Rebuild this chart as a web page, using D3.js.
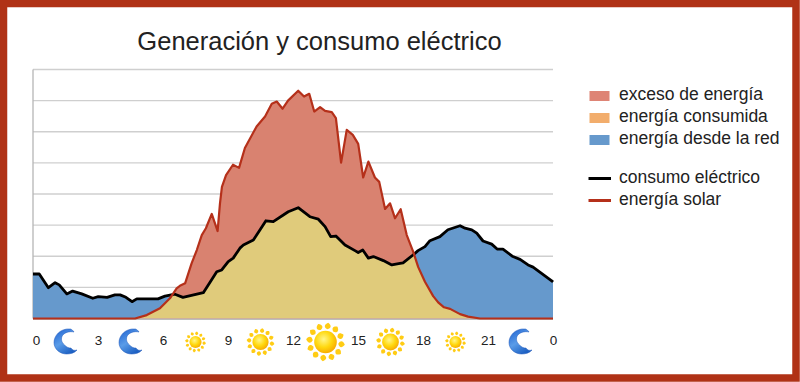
<!DOCTYPE html>
<html lang="es">
<head>
<meta charset="utf-8">
<title>Generación y consumo eléctrico</title>
<script src="https://cdn.jsdelivr.net/npm/d3@7"></script>
<style>
  html, body { margin: 0; padding: 0; background: #fff; }
  svg { display: block; font-family: "Liberation Sans", Arial, sans-serif; }
  .tick text { font-size: 13.5px; fill: #222; }
</style>
</head>
<body>
<div id="chart"></div>
<script>
const consumoHours = [0, 0.29, 0.71, 1.02, 1.21, 1.56, 1.83, 2.25, 2.76, 3.01, 3.42, 3.78, 4.02, 4.29, 4.57, 4.79, 5.77, 6.09, 6.55, 6.92, 7.86, 8.09, 8.48, 8.71, 9.01, 9.24, 9.55, 9.71, 10.17, 10.48, 10.75, 11.09, 11.78, 12.24, 12.78, 13.17, 13.48, 13.74, 13.98, 14.4, 14.86, 15.01, 15.22, 15.48, 15.71, 16.17, 16.56, 16.94, 17.08, 17.54, 17.77, 18.09, 18.32, 18.78, 19.15, 19.71, 19.94, 20.25, 20.48, 20.77, 21.17, 21.42, 21.69, 22.15, 22.48, 22.85, 23.08, 23.94, 24];
const consumoValues = [1.43, 1.43, 0.99, 1.15, 1.08, 0.79, 0.88, 0.79, 0.65, 0.7, 0.68, 0.76, 0.76, 0.68, 0.54, 0.63, 0.63, 0.72, 0.78, 0.68, 0.83, 1.08, 1.5, 1.56, 1.83, 1.94, 2.26, 2.36, 2.52, 2.85, 3.14, 3.11, 3.43, 3.56, 3.27, 3.19, 2.95, 2.63, 2.65, 2.36, 2.18, 2.12, 2.2, 1.94, 1.99, 1.86, 1.72, 1.77, 1.79, 2.04, 2.18, 2.31, 2.5, 2.63, 2.85, 2.98, 2.9, 2.85, 2.74, 2.49, 2.39, 2.23, 2.23, 1.99, 1.9, 1.72, 1.65, 1.21, 1.17];

const solarHours = [0, 4.71, 5.25, 5.86, 6.32, 6.63, 6.78, 7.02, 7.32, 7.56, 7.79, 7.98, 8.25, 8.52, 8.63, 8.72, 8.91, 9.23, 9.51, 9.78, 10.32, 10.71, 11.02, 11.25, 11.52, 11.77, 12.24, 12.51, 12.75, 12.98, 13.25, 13.48, 13.79, 13.98, 14.22, 14.48, 14.76, 15.01, 15.24, 15.48, 15.78, 15.98, 16.25, 16.48, 16.71, 16.97, 17.25, 17.55, 17.78, 18.09, 18.47, 18.7, 18.97, 19.25, 19.71, 20.08, 20.63, 24];
const solarValues = [0, 0, 0.11, 0.33, 0.65, 0.97, 1.05, 1.13, 1.77, 2.2, 2.68, 2.9, 3.36, 2.81, 3.7, 4.23, 4.61, 4.94, 4.84, 5.48, 6.17, 6.49, 6.9, 6.97, 6.74, 7, 7.32, 7.13, 7.22, 6.65, 6.79, 6.67, 6.63, 6.44, 5.01, 6.06, 5.9, 5.61, 4.53, 5.04, 4.53, 4.39, 3.52, 3.7, 3.22, 3.51, 2.68, 2.14, 1.65, 1.18, 0.72, 0.52, 0.36, 0.31, 0.14, 0.06, 0, 0];

const gridValues = [1, 2, 3, 4, 5, 6, 7, 8];
const tickHours = [0, 3, 6, 9, 12, 15, 18, 21, 24];
const moonHours = [1.5, 4.5, 22.5];
const sunHours = [7.5, 10.5, 13.5, 16.5, 19.5];
const sunRadius = [10.5, 14, 19.5, 14.5, 10.5];

const areaLabels = ["exceso de energía", "energía consumida", "energía desde la red"];
const areaColors = ["#DE8475", "#F2AD6C", "#6699CC"];
const lineLabels = ["consumo eléctrico", "energía solar"];
const lineColors = ["#000000", "#B5301A"];

const FRAME = "#B03216";
const width = 800;
const height = 382;

const svg = d3.select("#chart")
  .append("svg")
  .attr("width", width)
  .attr("height", height);

const defs = svg.append("defs");

const sunGrad = defs.append("radialGradient").attr("id", "sunCore")
  .attr("cx", "42%").attr("cy", "38%").attr("r", "65%");
sunGrad.append("stop").attr("offset", "0%").attr("stop-color", "#FFF68A");
sunGrad.append("stop").attr("offset", "55%").attr("stop-color", "#FFD80F");
sunGrad.append("stop").attr("offset", "100%").attr("stop-color", "#F7A800");

const moonGrad = defs.append("linearGradient").attr("id", "moonFill")
  .attr("x1", "0%").attr("y1", "0%").attr("x2", "60%").attr("y2", "100%");
moonGrad.append("stop").attr("offset", "0%").attr("stop-color", "#1C5FD0");
moonGrad.append("stop").attr("offset", "55%").attr("stop-color", "#5A9CE8");
moonGrad.append("stop").attr("offset", "100%").attr("stop-color", "#1E62C4");

const x = d3.scaleLinear().domain([0, 24]).range([33, 553]);
const y = d3.scaleLinear().domain([0, 8]).range([318.5, 69.5]);

const consumo = consumoHours.map((h, i) => ({ h, v: consumoValues[i] }));
const solar = solarHours.map((h, i) => ({ h, v: solarValues[i] }));

const area = d3.area().x((d) => x(d.h)).y0(y(0)).y1((d) => y(d.v));
const line = d3.line().x((d) => x(d.h)).y((d) => y(d.v));

// grid
svg.append("g")
  .selectAll("line")
  .data(gridValues)
  .join("line")
  .attr("x1", x(0))
  .attr("x2", x(24))
  .attr("y1", (d) => y(d))
  .attr("y2", (d) => y(d))
  .attr("stroke", "#CFCFCF")
  .attr("stroke-width", 1.3);

svg.append("line")
  .attr("x1", x(0)).attr("x2", x(0))
  .attr("y1", y(8)).attr("y2", y(0))
  .attr("stroke", "#B5B5B5")
  .attr("stroke-width", 1.3);

// tan = whatever sits under both curves, so clip one area with the other
defs.append("clipPath").attr("id", "underConsumo")
  .append("path").attr("d", area(consumo));

svg.append("path").attr("d", area(consumo)).attr("fill", "#6699CC");
svg.append("path").attr("d", area(solar)).attr("fill", "#D98270");
svg.append("path").attr("d", area(solar)).attr("fill", "#E0CB7B")
  .attr("clip-path", "url(#underConsumo)");

svg.append("line")
  .attr("x1", x(0)).attr("x2", x(24))
  .attr("y1", y(0) + 1).attr("y2", y(0) + 1)
  .attr("stroke", "#BDBDBD")
  .attr("stroke-width", 1);

svg.append("path")
  .attr("d", line(consumo))
  .attr("fill", "none")
  .attr("stroke", lineColors[0])
  .attr("stroke-width", 2.8)
  .attr("stroke-linejoin", "round");

svg.append("path")
  .attr("d", line(solar))
  .attr("fill", "none")
  .attr("stroke", lineColors[1])
  .attr("stroke-width", 2.2)
  .attr("stroke-linejoin", "round");

// hour labels
const axis = svg.append("g")
  .attr("transform", "translate(0,331)")
  .call(d3.axisBottom(x)
    .tickValues(tickHours)
    .tickFormat((d) => d % 24)
    .tickSize(0)
    .tickPadding(4));
axis.select(".domain").remove();
axis.selectAll("text").attr("dx", (d) => (d === 0 && tickHours[0] === d ? 3 : 0));

// sun and moon icons
const ray = "M0,-1 C0.2,-0.88 0.2,-0.74 0,-0.66 C-0.2,-0.74 -0.2,-0.88 0,-1 Z";

sunHours.forEach((h, i) => {
  const r = sunRadius[i];
  const sun = svg.append("g")
    .attr("transform", `translate(${x(h)},${342})`);
  sun.selectAll("path")
    .data(d3.range(12))
    .join("path")
    .attr("d", ray)
    .attr("fill", "#FFCC14")
    .attr("transform", (d) => `rotate(${d * 30 + 8}) scale(${r})`);
  sun.append("circle")
    .attr("r", r * 0.58)
    .attr("fill", "url(#sunCore)");
});

const moon = "M5,-12.5 C-5,-13.5 -11.5,-6 -11.5,1 C-11.5,8 -5,12.5 1,12.5 C5,12.5 9,11.5 11.5,8.5 " +
  "C9,9.5 6.5,8.5 5.5,6.5 C3.5,7 1,5.5 -1,3.5 C-4,1 -5,-3 -3,-6 C-1,-9 4,-10.5 8.5,-9.5 C7.5,-11 6.5,-12 5,-12.5 Z";

svg.selectAll(".moon")
  .data(moonHours)
  .join("path")
  .attr("class", "moon")
  .attr("d", moon)
  .attr("fill", "url(#moonFill)")
  .attr("stroke", "#1A55B8")
  .attr("stroke-width", 0.5)
  .attr("transform", (d) => `translate(${x(d)},341.5)`);

// title
svg.append("text")
  .attr("x", 319.5)
  .attr("y", 50)
  .attr("text-anchor", "middle")
  .attr("font-size", 25.5)
  .attr("fill", "#222")
  .text("Generación y consumo eléctrico");

// legend
const areaRows = d3.scaleOrdinal().domain(areaLabels).range([100, 122, 144]);
const lineRows = d3.scaleOrdinal().domain(lineLabels).range([183, 205]);

const areaLegend = svg.append("g")
  .selectAll("g")
  .data(areaLabels)
  .join("g");
areaLegend.append("rect")
  .attr("x", 589.5)
  .attr("y", (d) => areaRows(d) - 9)
  .attr("width", 20)
  .attr("height", 10)
  .attr("fill", (d, i) => areaColors[i]);
areaLegend.append("text")
  .attr("x", 619)
  .attr("y", (d) => areaRows(d))
  .attr("font-size", 17.5)
  .attr("fill", "#222")
  .text((d) => d);

const lineLegend = svg.append("g")
  .selectAll("g")
  .data(lineLabels)
  .join("g");
lineLegend.append("line")
  .attr("x1", 588.5)
  .attr("x2", 611)
  .attr("y1", (d) => lineRows(d) - 4.5)
  .attr("y2", (d) => lineRows(d) - 4.5)
  .attr("stroke", (d, i) => lineColors[i])
  .attr("stroke-width", 3);
lineLegend.append("text")
  .attr("x", 619)
  .attr("y", (d) => lineRows(d))
  .attr("font-size", 17.5)
  .attr("fill", "#222")
  .text((d) => d);

// red frame round the whole picture
svg.append("rect")
  .attr("x", 3.5)
  .attr("y", 3.5)
  .attr("width", width - 7.5)
  .attr("height", height - 7.5)
  .attr("fill", "none")
  .attr("stroke", FRAME)
  .attr("stroke-width", 7.5);
</script>
</body>
</html>
